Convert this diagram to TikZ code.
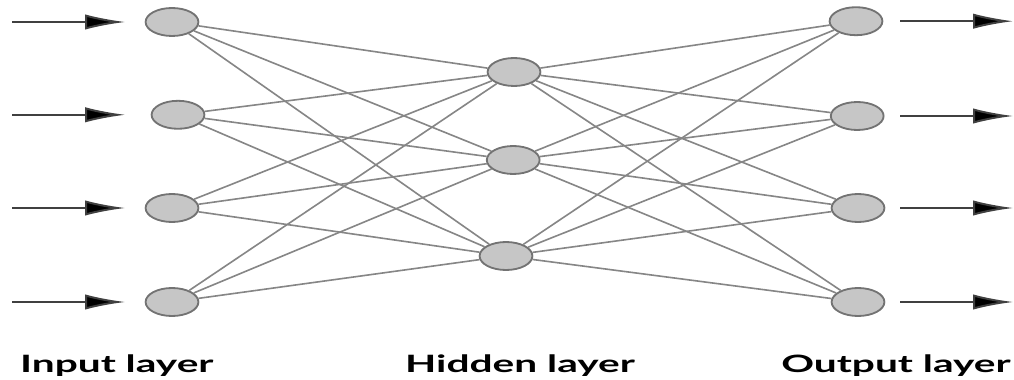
\documentclass[tikz,border=0pt]{standalone}
\usepackage{fontspec}
\setmainfont{Lato}
\usetikzlibrary{shapes}
\usetikzlibrary{arrows.meta}

\tikzset{
  unit/.style={ellipse, draw=gray!90!black, fill=gray!45, line width=1.3pt,
    minimum width=1.32cm, minimum height=0.7cm, inner sep=0pt},
  link/.style={draw=gray!95, line width=1.15pt},
  signal/.style={draw=black!75, line width=1.4pt, -{Latex[length=1.0cm,width=0.38cm,fill=black]}},
  layername/.style={font=\fontsize{17}{20}\selectfont\bfseries}
}

\begin{document}
\begin{tikzpicture}[scale=1.0]

\useasboundingbox (0,0) rectangle (25.35,9.5);

%Draw input layer
\foreach \i/\x/\y in {1/4.3/8.95, 2/4.45/6.63, 3/4.3/4.3, 4/4.3/1.95} {
\node[unit] (in\i) at (\x,\y) {};
\coordinate (src\i) at (0.3,\y);
\coordinate (dst\i) at (3.13,\y);
\draw[signal] (src\i) -- (dst\i);
}

%Draw hidden layer
\foreach \i/\x/\y in {1/12.85/7.7, 2/12.83/5.5, 3/12.65/3.1} {
\node[unit] (hid\i) at (\x,\y) {};
}

%Draw output layer
\foreach \i/\x/\y in {1/21.4/8.97, 2/21.43/6.6, 3/21.45/4.3, 4/21.45/1.95} {
\node[unit] (out\i) at (\x,\y) {};
\coordinate (beg\i) at (22.5,\y);
\coordinate (end\i) at (25.33,\y);
\draw[signal] (beg\i) -- (end\i);
}

%Draw links
\foreach \i in {1,...,4} {
\foreach \j in {1,...,3} {
\draw[link] (in\i) -- (hid\j);
\draw[link] (hid\j) -- (out\i);
}
}

%Draw labels
\node[layername] (inname) at (2.92,0.37) {\scalebox{1.7}[1]{Input layer}};
\node[layername] (hidname) at (13.0,0.37) {\scalebox{1.7}[1]{Hidden layer}};
\node[layername] (outname) at (22.4,0.37) {\scalebox{1.7}[1]{Output layer}};

\end{tikzpicture}
\end{document}
